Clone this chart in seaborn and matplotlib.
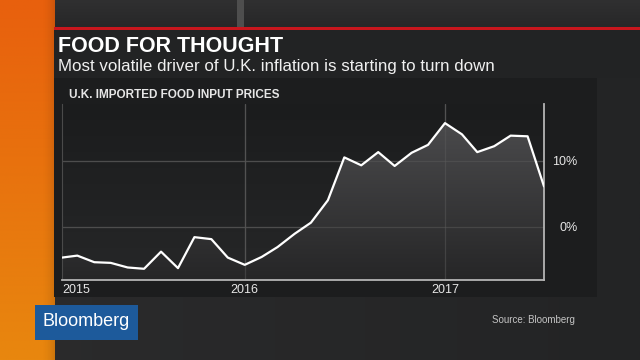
import numpy as np
import pandas as pd
import matplotlib
matplotlib.use("Agg")
import matplotlib.pyplot as plt
from matplotlib.patches import Rectangle
from matplotlib.colors import to_rgb
import seaborn as sns

# ---------------- data ----------------
months = ["2015-02", "2015-03", "2015-04", "2015-05", "2015-06", "2015-07",
          "2015-08", "2015-09", "2015-10", "2015-11", "2015-12", "2016-01",
          "2016-02", "2016-03", "2016-04", "2016-05", "2016-06", "2016-07",
          "2016-08", "2016-09", "2016-10", "2016-11", "2016-12", "2017-01",
          "2017-02", "2017-03", "2017-04", "2017-05", "2017-06", "2017-07"]
values = [-4.7, -4.4, -5.4, -5.5, -6.2, -6.4, -3.8, -6.3, -1.6, -1.9, -4.7, -5.8,
          -4.6, -3.1, -1.1, 0.6, 4.0, 10.5, 9.3, 11.3, 9.2, 11.2, 12.4, 15.7,
          14.0, 11.3, 12.2, 13.8, 13.7, 6.1]
year_ticks = ["2015", "2016", "2017"]
y_ticks = [0, 10]
y_tick_labels = ["0%", "10%"]
title = "FOOD FOR THOUGHT"
subtitle = "Most volatile driver of U.K. inflation is starting to turn down"
chart_label = "U.K. IMPORTED FOOD INPUT PRICES"
source = "Source: Bloomberg"
brand = "Bloomberg"
y_min, y_max = -8.1, 18.6

df = pd.DataFrame({"date": pd.to_datetime(months), "value": values})

sns.set_theme(style="dark")
plt.rcParams["font.family"] = ["Liberation Sans", "DejaVu Sans"]

W, H = 640, 360
fig = plt.figure(figsize=(6.4, 3.6), dpi=100)

# ---------------- background layer ----------------
bg = fig.add_axes([0, 0, 1, 1])
bg.set_xlim(0, W)
bg.set_ylim(H, 0)
bg.axis("off")

def vgrad(c_top, c_bot, n=256):
    a, b = np.array(to_rgb(c_top)), np.array(to_rgb(c_bot))
    t = np.linspace(0, 1, n)[:, None]
    return (a * (1 - t) + b * t)[:, None, :]

def hgrad(c_left, c_right, n=256):
    a, b = np.array(to_rgb(c_left)), np.array(to_rgb(c_right))
    t = np.linspace(0, 1, n)[:, None]
    return (a * (1 - t) + b * t)[None, :, :]

# overall dark backdrop
bg.imshow(hgrad("#2b2b2c", "#232425"), extent=[0, W, H, 0], aspect="auto", zorder=0)
bg.imshow(vgrad("#303031", "#262627"), extent=[0, W, 30, 0], aspect="auto", zorder=0.5)
bg.add_patch(Rectangle((237, 0), 7, 27, color="#4e4e4e", zorder=0.6, lw=0))
# orange stripe
bg.imshow(vgrad("#e8600d", "#e8870f"), extent=[0, 55, H, 0], aspect="auto", zorder=1)
shade = np.zeros((1, 256, 4))
shade[..., 3] = np.linspace(0, 0.35, 256) ** 2
bg.imshow(shade, extent=[40, 55, H, 0], aspect="auto", zorder=1.1)
# red line and title band
bg.add_patch(Rectangle((54, 26.5), W - 54, 3, color="#c8161d", zorder=2, lw=0))
bg.add_patch(Rectangle((54, 29.5), W - 54, 48.5, color="#222324", zorder=2, lw=0))
# chart panel
bg.add_patch(Rectangle((54, 78), 543, 219, color="#1c1d1e", zorder=2, lw=0))
# brand box
bg.add_patch(Rectangle((35, 305), 103, 35, color="#1d5a9b", zorder=3, lw=0))

bg.text(58, 46, title, color="white", fontsize=15.5, fontweight="bold",
        va="center", ha="left", zorder=4)
bg.text(58, 66, subtitle, color="#f0f0f0", fontsize=12.2,
        va="center", ha="left", zorder=4)
bg.text(69, 95, chart_label, color="#e6e6e6", fontsize=8.5, fontweight="bold",
        va="center", ha="left", zorder=4)
bg.text(86.5, 322, brand, color="white", fontsize=13, va="center", ha="center", zorder=4)
bg.text(492, 320, source, color="#c4c4c4", fontsize=7, va="center", ha="left", zorder=4)

# ---------------- chart ----------------
x0, x1, yt, yb = 62, 544, 104, 280
ax = fig.add_axes([x0 / W, 1 - yb / H, (x1 - x0) / W, (yb - yt) / H])

dmin, dmax = df["date"].min(), df["date"].max()
ax.set_xlim(dmin, dmax)
ax.set_ylim(y_min, y_max)

# plot background gradient
xn0, xn1 = ax.get_xlim()
ax.imshow(vgrad("#1b1c1d", "#262728"), extent=[xn0, xn1, y_min, y_max],
          aspect="auto", zorder=0, origin="upper")

# grid
tick_dates = [dmin] + [pd.Timestamp(f"{y}-01-01") for y in year_ticks[1:]]
for t in tick_dates[1:]:
    ax.axvline(t, color="#4a4a4a", lw=0.9, zorder=1)
for v in y_ticks:
    ax.axhline(v, color="#404040", lw=0.9, zorder=1)

# fill under line with gradient
poly = ax.fill_between(df["date"], df["value"], y_min, color="none", lw=0)
fill_im = ax.imshow(vgrad("#4a4a4c", "#262627"), extent=[xn0, xn1, y_min, max(values)],
                    aspect="auto", zorder=2, origin="upper")
fill_im.set_clip_path(poly.get_paths()[0], transform=ax.transData)
for t in tick_dates[1:]:
    ax.axvline(t, color="#5a5a5a", lw=0.9, zorder=2.5, alpha=0.5)
for v in y_ticks:
    ax.axhline(v, color="#5a5a5a", lw=0.9, zorder=2.5, alpha=0.5)

sns.lineplot(data=df, x="date", y="value", ax=ax, color="white", lw=1.6, zorder=3)

ax.set_xlim(dmin, dmax)
ax.set_ylim(y_min, y_max)
ax.set_xlabel("")
ax.set_ylabel("")
ax.grid(False)

ax.spines["top"].set_visible(False)
ax.spines["left"].set_color("#4a4a4a")
ax.spines["left"].set_linewidth(0.8)
ax.spines["right"].set_color("#b4b4b4")
ax.spines["right"].set_linewidth(1.3)
ax.spines["bottom"].set_color("#b4b4b4")
ax.spines["bottom"].set_linewidth(1.3)

ax.set_xticks(tick_dates)
ax.set_xticklabels(year_ticks)
ax.tick_params(axis="x", length=0, pad=3, labelsize=9, labelcolor="#e6e6e6")
ax.get_xticklabels()[0].set_ha("left")

ax.yaxis.tick_right()
ax.set_yticks(y_ticks)
ax.set_yticklabels(y_tick_labels)
ax.tick_params(axis="y", length=0, pad=24, labelsize=9, labelcolor="#e6e6e6")
for lab in ax.get_yticklabels():
    lab.set_ha("right")

fig.savefig("out.png", dpi=100, facecolor="#262626")
